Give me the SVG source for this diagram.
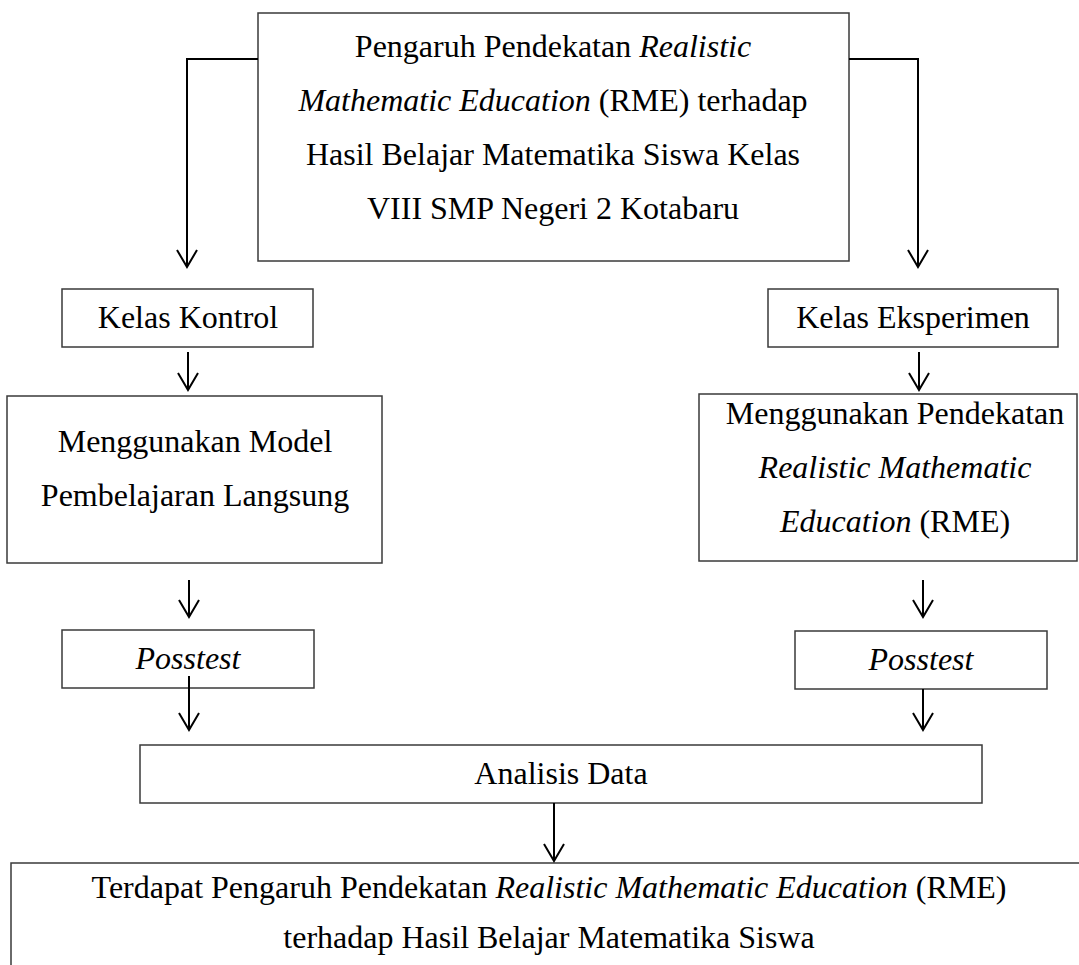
<svg xmlns="http://www.w3.org/2000/svg" width="1079" height="965" viewBox="0 0 1079 965">
<style>
.box{fill:#fff;stroke:#3a3a3a;stroke-width:1.5}
.t{font-family:"Liberation Serif","Times New Roman",serif;font-size:32px;fill:#000;text-anchor:middle}
.i{font-style:italic}
.c{fill:none;stroke:#000;stroke-width:2}
</style>
<defs>
<marker id="ah" markerUnits="userSpaceOnUse" markerWidth="40" markerHeight="40" refX="0" refY="0" orient="auto" overflow="visible">
<path d="M-17,-10 L0,0 L-17,10" fill="none" stroke="#000" stroke-width="2"/>
</marker>
</defs>
<rect width="1079" height="965" fill="#fff"/>

<g id="n-top">
<rect class="box" x="258" y="13" width="591" height="248"/>
<text class="t" x="553" y="57">Pengaruh Pendekatan <tspan class="i">Realistic</tspan></text>
<text class="t" x="553" y="111"><tspan class="i">Mathematic Education</tspan> (RME) terhadap</text>
<text class="t" x="553" y="165">Hasil Belajar Matematika Siswa Kelas</text>
<text class="t" x="553" y="219">VIII SMP Negeri 2 Kotabaru</text>
</g>

<g id="n-kontrol">
<rect class="box" x="62" y="289" width="251" height="58"/>
<text class="t" x="188" y="328">Kelas Kontrol</text>
</g>

<g id="n-eksperimen">
<rect class="box" x="768" y="289" width="290" height="58"/>
<text class="t" x="913" y="328">Kelas Eksperimen</text>
</g>

<g id="n-model">
<rect class="box" x="7" y="396" width="375" height="167"/>
<text class="t" x="195" y="452">Menggunakan Model</text>
<text class="t" x="195" y="506">Pembelajaran Langsung</text>
</g>

<g id="n-rme">
<rect class="box" x="699" y="394" width="378" height="167"/>
<text class="t" x="895" y="424">Menggunakan Pendekatan</text>
<text class="t i" x="895" y="478">Realistic Mathematic</text>
<text class="t" x="895" y="532"><tspan class="i">Education</tspan> (RME)</text>
</g>

<g id="n-posstest-l">
<rect class="box" x="62" y="630" width="252" height="58"/>
<text class="t i" x="188" y="669">Posstest</text>
</g>

<g id="n-posstest-r">
<rect class="box" x="795" y="631" width="252" height="58"/>
<text class="t i" x="921" y="670">Posstest</text>
</g>

<g id="n-analisis">
<rect class="box" x="140" y="745" width="842" height="58"/>
<text class="t" x="561" y="784">Analisis Data</text>
</g>

<g id="n-final">
<rect class="box" x="11" y="863" width="1090" height="130"/>
<text class="t" x="549" y="898">Terdapat Pengaruh Pendekatan <tspan class="i">Realistic Mathematic Education</tspan> (RME)</text>
<text class="t" x="549" y="948">terhadap Hasil Belajar Matematika Siswa</text>
</g>

<g id="connectors">
<path class="c" d="M258,59 H187 V267" marker-end="url(#ah)"/>
<path class="c" d="M849,59 H918 V267" marker-end="url(#ah)"/>
<path class="c" d="M188,352 V390" marker-end="url(#ah)"/>
<path class="c" d="M919,352 V390" marker-end="url(#ah)"/>
<path class="c" d="M189,580 V617" marker-end="url(#ah)"/>
<path class="c" d="M923,580 V617" marker-end="url(#ah)"/>
<path class="c" d="M189,676 V730" marker-end="url(#ah)"/>
<path class="c" d="M923,689 V730" marker-end="url(#ah)"/>
<path class="c" d="M554,803 V861" marker-end="url(#ah)"/>
</g>
</svg>
